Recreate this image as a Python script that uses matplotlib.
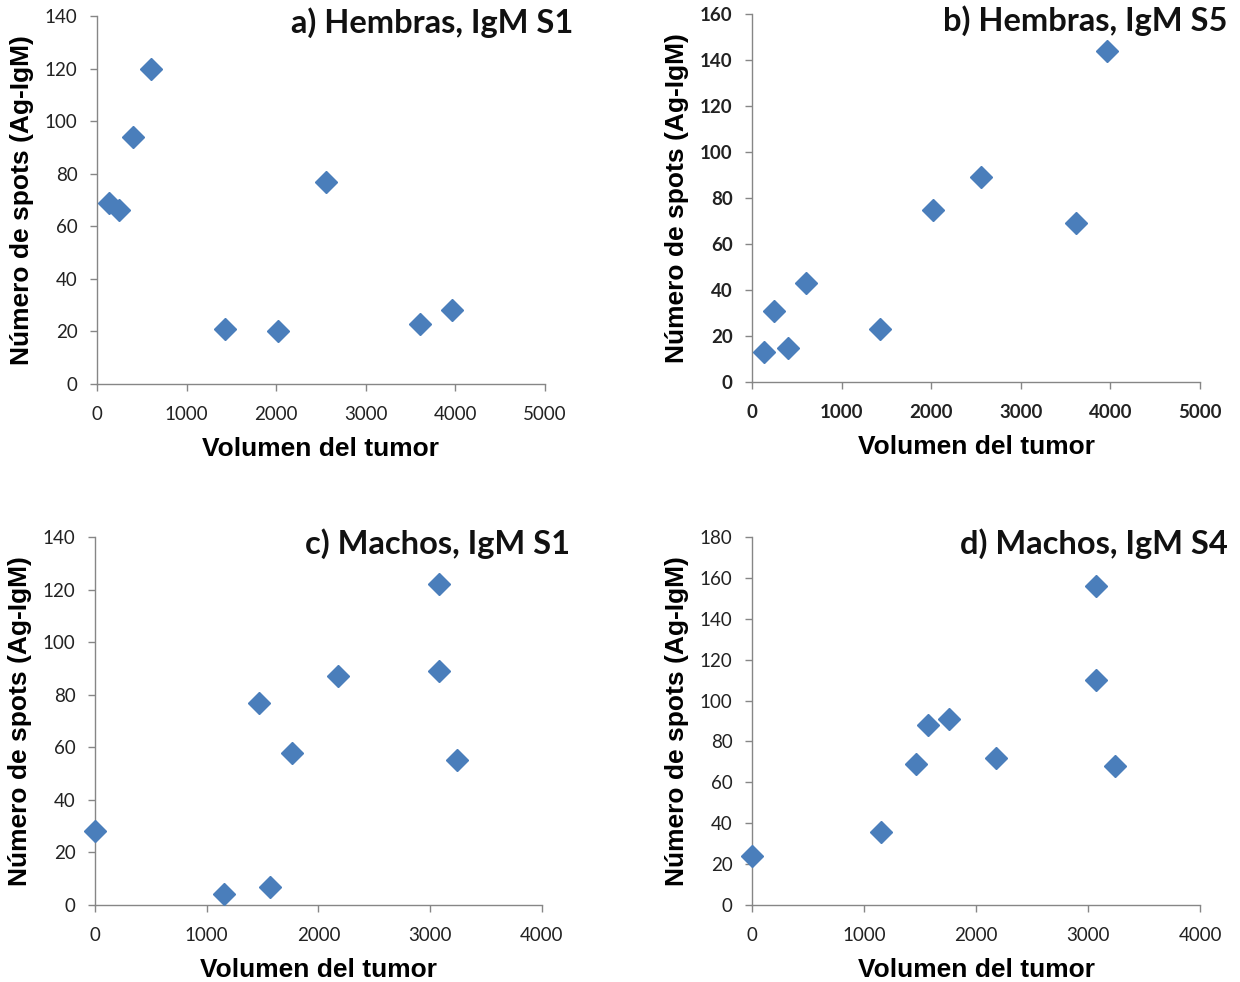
import matplotlib.pyplot as plt

# hembras: volumen del tumor y spots para S1 y S5
vol_hembras = [130, 245, 400, 600, 1430, 2020, 2555, 3610, 3965]
spots_h_s1 = [69, 66, 94, 120, 21, 20, 77, 23, 28]
spots_h_s5 = [13, 31, 15, 43, 23, 75, 89, 69, 144]

# machos: volumen del tumor y spots para S1 y S4
vol_machos = [0, 1150, 1465, 1570, 1760, 2175, 3075, 3075, 3240]
spots_m_s1 = [28, 4, 77, 7, 58, 87, 122, 89, 55]
spots_m_s4 = [24, 35.5, 69, 88, 91, 72, 156, 110, 68]

azul = '#4a7ebb'
gris = '#868686'

paneles = [
    # rect, x, y, titulo, xmax, ymax, ystep, ticks en negrita
    ([0.0782, 0.609, 0.3613, 0.3747], vol_hembras, spots_h_s1, 'a) Hembras, IgM S1', 5000, 140, 20, False),
    ([0.6065, 0.611, 0.3613, 0.3747], vol_hembras, spots_h_s5, 'b) Hembras, IgM S5', 5000, 160, 20, True),
    ([0.0766, 0.0784, 0.3605, 0.3747], vol_machos, spots_m_s1, 'c) Machos, IgM S1', 4000, 140, 20, False),
    ([0.6065, 0.0784, 0.3613, 0.3747], vol_machos, spots_m_s4, 'd) Machos, IgM S4', 4000, 180, 20, False),
]

fig = plt.figure(figsize=(12.4, 9.82), dpi=100)

for rect, x, y, titulo, xmax, ymax, ystep, negrita in paneles:
    ax = fig.add_axes(rect)
    ax.plot(x, y, linestyle='none', marker='D', ms=11, color=azul, clip_on=False, zorder=3)
    ax.set_xlim(0, xmax)
    ax.set_ylim(0, ymax)
    ax.set_xticks(range(0, xmax + 1, 1000))
    ax.set_yticks(range(0, ymax + 1, ystep))
    for s in ['top', 'right']:
        ax.spines[s].set_visible(False)
    for s in ['left', 'bottom']:
        ax.spines[s].set_color(gris)
        ax.spines[s].set_linewidth(1)
    ax.tick_params(direction='out', length=5, width=1, color=gris, labelsize=13.5)
    ax.tick_params(axis='x', pad=11)
    ax.tick_params(axis='y', pad=9)
    for lab in ax.get_xticklabels() + ax.get_yticklabels():
        lab.set_fontfamily('Lato')
        lab.set_color('#222222')
        if negrita:
            lab.set_fontweight('bold')
    ax.set_xlabel('Volumen del tumor', fontsize=19, fontweight='bold',
                  fontfamily='Liberation Sans', labelpad=10)
    ax.set_ylabel('Número de spots (Ag-IgM)', fontsize=19, fontweight='bold',
                  fontfamily='Liberation Sans', labelpad=8)
    ax.text(1.062, 0.982, titulo, transform=ax.transAxes, ha='right', va='center',
            fontsize=23.5, fontweight='bold', fontfamily='Lato', color='#111111')

fig.savefig('out.png', dpi=100)
